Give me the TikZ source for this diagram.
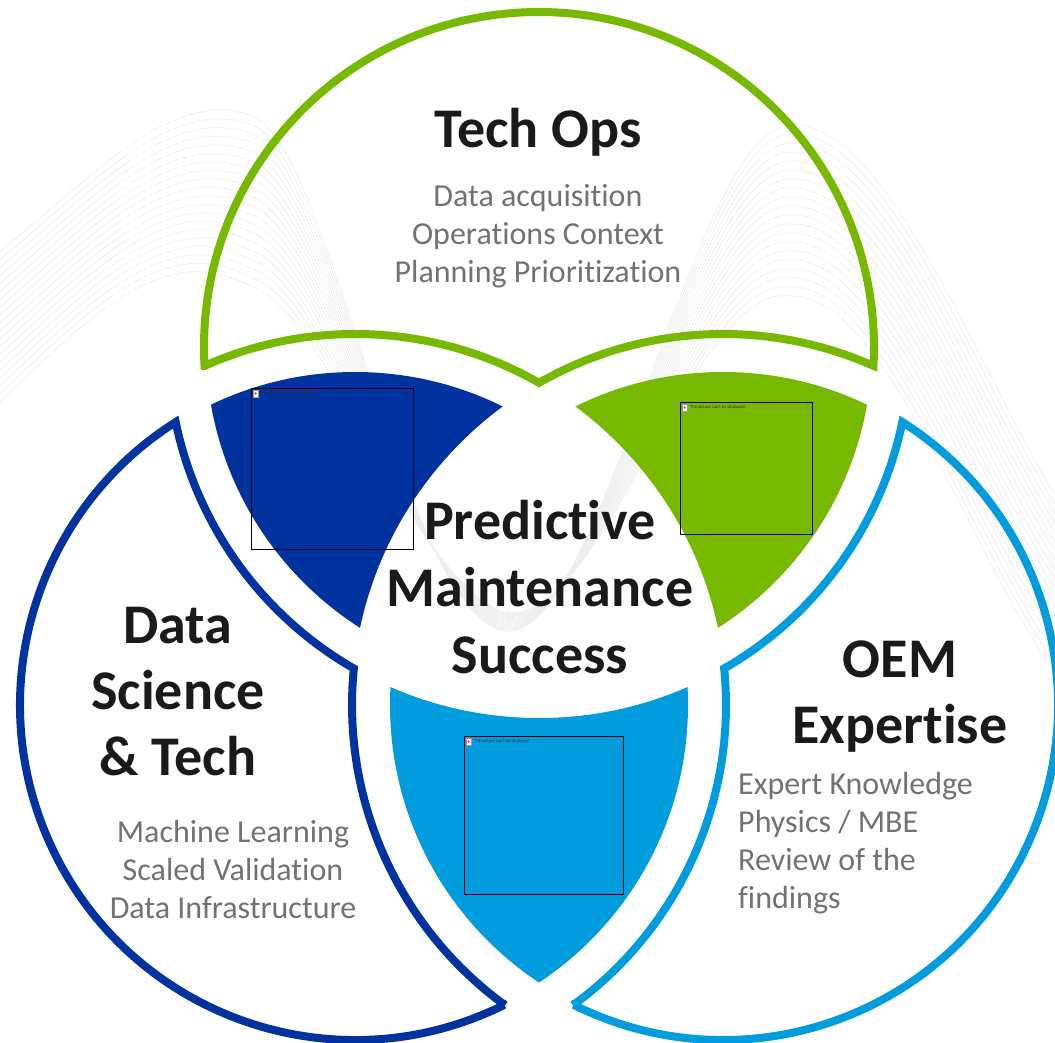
\documentclass[tikz,border=0pt]{standalone}
\usepackage{fontspec}
\setmainfont{Carlito}[Ligatures=NoCommon]
\usetikzlibrary{calc}
\definecolor{opsgreen}{HTML}{76B900}
\definecolor{dsblue}{HTML}{0033A0}
\definecolor{oemblue}{HTML}{009CDE}
\definecolor{bodygray}{HTML}{767171}
\definecolor{inkblack}{HTML}{1A1A1A}
\begin{document}
\begin{tikzpicture}[x=1pt,y=-1pt,
  ring/.style={line width=8pt, line join=miter, miter limit=3},
  heading/.style={font=\fontsize{56}{66}\selectfont\bfseries, text=inkblack, anchor=base, inner sep=0pt},
  bodyline/.style={font=\fontsize{32}{38}\selectfont, text=bodygray, anchor=base, inner sep=0pt},
  bodyleft/.style={bodyline, anchor=base west},
  swirl/.style={line width=0.6pt, draw=black!7},
  placeholder/.style={draw=black, line width=1.2pt, anchor=north west, inner sep=0pt},
  phtext/.style={font=\fontsize{4.5}{5}\selectfont, text=black!80, anchor=north west, inner sep=0pt}
]
\useasboundingbox (0,0) rectangle (1055,1043);
\clip (0,0) rectangle (1055,1043);
\fill[white] (0,0) rectangle (1055,1043);

% faint flowing lines in the background
\foreach \k in {0,...,19} {
  \draw[swirl] (-10, 260+8*\k) .. controls (100, 170+7*\k) and (170, 90+8*\k) .. (250, 115+9*\k)
    .. controls (330, 140+9*\k) and (400, 600-2*\k) .. (500, 630-\k)
    .. controls (600, 660-\k) and (690, 130+8*\k) .. (790, 125+9*\k)
    .. controls (890, 120+9*\k) and (980, 380+11*\k) .. (1070, 520+9*\k);
}

% circle centres
\coordinate (G) at (539,347);
\coordinate (D) at (355,705);
\coordinate (L) at (723,705);

% pairwise overlap lenses
\begin{scope}
  \clip (G) circle[radius=333];
  \clip (D) circle[radius=333];
  \fill[dsblue, even odd rule] (0,0) rectangle (1055,1043) (L) circle[radius=371];
\end{scope}
\begin{scope}
  \clip (G) circle[radius=333];
  \clip (L) circle[radius=333];
  \fill[opsgreen, even odd rule] (0,0) rectangle (1055,1043) (D) circle[radius=371];
\end{scope}
\begin{scope}
  \clip (D) circle[radius=333];
  \clip (L) circle[radius=333];
  \fill[oemblue, even odd rule] (0,0) rectangle (1055,1043) (G) circle[radius=371];
\end{scope}

% outer petals
\draw[ring, opsgreen] ($(G)+(176.773:335)$)
  arc[start angle=176.773, end angle=363.227, radius=335]
  arc[start angle=-66.077, end angle=-119.733, radius=371]
  arc[start angle=-60.267, end angle=-113.923, radius=371] -- cycle;
\draw[ring, dsblue] ($(D)+(63.5:335)$)
  arc[start angle=63.5, end angle=237.637, radius=335]
  arc[start angle=168.333, end angle=119.942, radius=371]
  arc[start angle=185.648, end angle=126.09, radius=371] -- cycle;
\draw[ring, oemblue] ($(L)+(116.5:335)$)
  arc[start angle=116.5, end angle=-57.637, radius=335]
  arc[start angle=11.667, end angle=60.058, radius=371]
  arc[start angle=-5.648, end angle=53.91, radius=371] -- cycle;

% missing-picture frames
\node[placeholder, minimum width=162pt, minimum height=161pt] (picA) at (251,388) {};
\node[placeholder, minimum width=132pt, minimum height=132pt] (picB) at (680,402) {};
\node[placeholder, minimum width=159pt, minimum height=158pt] (picC) at (464,736) {};
\foreach \p in {picA,picB,picC} {
  \draw[black!40, fill=white, line width=0.3pt] ([shift={(2,2)}]\p.north west) rectangle ++(5,7);
  \fill[red!70] ([shift={(4.5,5.5)}]\p.north west) circle[radius=1.3];
  \node[phtext] at ([shift={(10,3)}]\p.north west) {The picture can't be displayed.};
}

% Tech Ops
\node[heading] (techops) at (538,148) {Tech Ops};
\node[bodyline] (ops1) at (538,207) {Data acquisition};
\node[bodyline] (ops2) at (538,245) {Operations Context};
\node[bodyline] (ops3) at (538,283) {Planning Prioritization};

% centre
\node[heading] (pm1) at (540,539) {Predictive};
\node[heading] (pm2) at (540,606) {Maintenance};
\node[heading] (pm3) at (540,673) {Success};

% Data Science & Tech
\node[heading] (ds1) at (178,643) {Data};
\node[heading] (ds2) at (178,709) {Science};
\node[heading] (ds3) at (178,775) {\& Tech};
\node[bodyline] (ds4) at (233,842) {Machine Learning};
\node[bodyline] (ds5) at (233,880) {Scaled Validation};
\node[bodyline] (ds6) at (233,918) {Data Infrastructure};

% OEM Expertise
\node[heading] (oem1) at (900,677) {OEM};
\node[heading] (oem2) at (900,743) {Expertise};
\node[bodyleft] (oem3) at (738,794) {Expert Knowledge};
\node[bodyleft] (oem4) at (738,832) {Physics / MBE};
\node[bodyleft] (oem5) at (738,870) {Review of the};
\node[bodyleft] (oem6) at (738,908) {findings};
\end{tikzpicture}
\end{document}
